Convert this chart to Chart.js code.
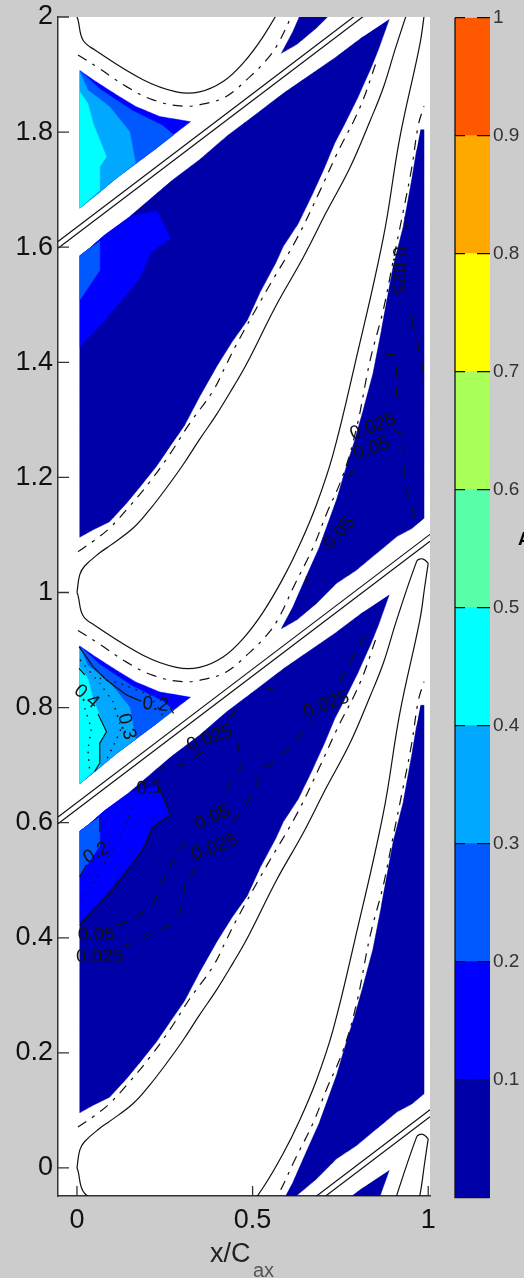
<!DOCTYPE html>
<html><head><meta charset="utf-8">
<script src="https://cdn.jsdelivr.net/npm/chart.js@4/dist/chart.umd.js"></script>
<style>
html,body{margin:0;padding:0;background:#cccccc;width:524px;height:1278px;overflow:hidden}
canvas{position:absolute;top:0;filter:blur(.45px)}
#main{left:0}#bar{left:440px}
</style></head><body>
<canvas id="main" width="440" height="1278"></canvas>
<canvas id="bar" width="84" height="1278"></canvas>
<script>
// ---------- axis ticks
const xTicks=[0,0.5,1];
const yTicks=[0,0.2,0.4,0.6,0.8,1,1.2,1.4,1.6,1.8,2];
const barTicks=[0.1,0.2,0.3,0.4,0.5,0.6,0.7,0.8,0.9,1];
const bandValues=[0.1,0.1,0.1,0.1,0.1,0.1,0.1,0.1,0.1,0.1];
const bandColors=['#0000a8','#0000ff','#0058ff','#00a8ff','#00ffff','#58ffa8','#a8ff58','#ffff00','#ffa800','#ff5800'];
const pitch=[-2,-1,0,1];

// ---------- blade geometry (x/Cax, pitch)
const bladeUpper=[[0,0],[.008,.031],[.022,.046],[.065,.069],[.093,.081],[.160,.112],[.207,.144],[.255,.182],[.302,.222],[.349,.266],[.397,.309],[.444,.356],[.482,.396],[.568,.500],[.644,.582],[.710,.661],[.777,.738],[.834,.819],[.872,.877],[.910,.952],[.967,1.054],[.975,1.058],[.986,1.058],[1,1.051]];
const bladeLower=[[0,0],[.003,-.005],[.017,-.040],[.050,-.057],[.188,-.109],[.283,-.130],[.349,-.130],[.416,-.112],[.473,-.080],[.530,-.034],[.587,.025],[.634,.083],[.682,.153],[.729,.240],[.791,.396],[.872,.616],[.919,.790],[.976,.952],[.990,1.01],[1,1.051]];
const edgeUpper=[[.003,.071],[.046,.089],[.093,.112],[.150,.150],[.207,.192],[.264,.240],[.321,.294],[.387,.350],[.425,.396],[.454,.431],[.539,.524],[.625,.614],[.691,.697],[.739,.761],[.805,.842],[.853,.923]];
const edgeLower=[[.003,-.066],[.065,-.090],[.141,-.121],[.217,-.144],[.302,-.155],[.368,-.150],[.425,-.138],[.492,-.104],[.539,-.075],[.571,-.048],[.620,.014],[.672,.078],[.710,.136],[.758,.205],[.796,.286],[.834,.402],[.872,.491],[.900,.576],[.929,.663],[.953,.738],[.972,.813],[.988,.845]];
const wakeUpper=[[-.054,.610],[1.005,1.101]];
const wakeLower=[[-.054,.598],[1.005,1.089]];

// ---------- filled contour bands, lowest level first
const passageMain=[[.889,1.996],[.858,1.943],[.839,1.914],[.801,1.862],[.763,1.815],[.734,1.781],[.706,1.740],[.672,1.694],[.630,1.641],[.587,1.601],[.568,1.575],[.520,1.520],[.485,1.473],[.440,1.434],[.397,1.392],[.349,1.340],[.307,1.291],[.264,1.253],[.226,1.219],[.188,1.190],[.141,1.155],[.093,1.123],[.046,1.109],[.008,1.096],[.008,1.585],[.036,1.598],[.079,1.621],[.150,1.653],[.217,1.688],[.273,1.717],[.349,1.752],[.425,1.792],[.501,1.827],[.587,1.867],[.663,1.899],[.739,1.931],[.815,1.966]];
const passageRight=[[.978,1.804],[.988,1.804],[.988,1.129],[.953,1.111],[.910,1.097],[.853,1.068],[.796,1.039],[.739,1.016],[.682,.981],[.625,.952],[.582,.937],[.615,.975],[.653,1.028],[.691,1.080],[.739,1.161],[.767,1.219],[.791,1.265],[.815,1.317],[.843,1.381],[.867,1.456],[.900,1.566],[.929,1.636],[.953,1.717],[.967,1.769]];
const passageBand1=[[.008,1.585],[.036,1.598],[.079,1.621],[.155,1.654],[.228,1.663],[.266,1.615],[.212,1.592],[.179,1.546],[.079,1.473],[.008,1.427]];
const passageBand2=[[.008,1.585],[.036,1.598],[.065,1.610],[.065,1.560],[.008,1.508]];
const pocketBand1=[[.008,1.907],[.046,1.891],[.112,1.865],[.169,1.844],[.236,1.827],[.323,1.818],[.274,1.795],[.226,1.772],[.169,1.746],[.112,1.720],[.065,1.696],[.008,1.668]];
const pocketBand2=[[.008,1.907],[.065,1.875],[.159,1.837],[.245,1.811],[.275,1.795],[.226,1.772],[.169,1.746],[.112,1.720],[.065,1.696],[.008,1.668]];
const pocketBand3=[[.008,1.905],[.031,1.873],[.093,1.844],[.150,1.801],[.167,1.746],[.112,1.720],[.065,1.696],[.008,1.668]];
const pocketBand4=[[.008,1.870],[.031,1.850],[.046,1.815],[.084,1.757],[.065,1.740],[.065,1.699],[.008,1.668]];

// ---------- contour lines (single pitch only)
const solidPieces=[
 [[.008,.422],[.103,.483],[.193,.558],[.217,.593],[.266,.613],[.236,.660]],
 [[.065,.610],[.065,.584]],
 [[.008,.506],[.027,.527]],
 [[.006,.906],[.046,.871],[.084,.848],[.141,.822],[.183,.811]],
 [[.266,.799],[.275,.790]],
 [[.006,.868],[.022,.857]],
 [[.060,.789],[.084,.758],[.065,.738],[.065,.703],[.050,.689]]
];
const dottedPieces=[
 [[.155,.625],[.141,.599],[.121,.570],[.084,.535],[.046,.495],[.008,.460]],
 [[.009,.883],[.065,.842],[.103,.810],[.126,.764],[.107,.738],[.084,.709]],
 [[.022,.799],[.041,.764],[.031,.726],[.036,.692]],
 [[.065,.851],[.122,.842],[.207,.822],[.250,.781]]
];
const dashedPieces=[
 [[.112,.422],[.150,.428],[.217,.457],[.245,.500],[.283,.547],[.311,.567]],
 [[.444,.602],[.473,.622],[.511,.666],[.535,.697],[.549,.700],[.582,.718],[.615,.735],[.668,.776]],
 [[.748,.845],[.772,.871],[.796,.900],[.829,.935]],
 [[.131,.387],[.169,.392],[.198,.402],[.236,.414],[.269,.422],[.292,.443],[.302,.471],[.307,.489],[.345,.527]],
 [[.425,.657],[.449,.680],[.468,.697],[.463,.720],[.454,.747]],
 [[.359,.723],[.311,.703],[.288,.700],[.255,.697],[.236,.695]],
 [[.435,.781],[.459,.799]],
 [[.539,.833],[.563,.832]],
 [[.877,1.414],[.905,1.413],[.910,1.381],[.910,1.340],[.896,1.330]],
 [[.900,1.282],[.927,1.274],[.931,1.230],[.931,1.201],[.943,1.167],[.962,1.132],[.962,1.117]],
 [[.953,1.473],[.971,1.427],[.986,1.384]],
 [[.934,1.653],[.938,1.630]],
 [[.948,1.485],[.957,1.473]],
 [[.772,1.201],[.805,1.224]],
 [[.653,1.028],[.657,1.010]]
];
const contourText=['0.025','0.025','0.05','0.025','0.05','0.025','0.2','0.1','0.2','0.3','0.4','0.025','0.05','0.05','0.025'];
const contourX=[.378,.710,.386,.392,.055,.065,.055,.207,.224,.141,.027,.843,.839,.748,.915];
const contourY=[.747,.805,.609,.557,.405,.367,.547,.660,.805,.767,.819,1.288,1.250,1.103,1.560];
const contourAngle=[-20,-20,-25,-20,0,0,-30,-5,5,75,40,-20,-20,-50,90];

// ---------- dataset builders
const pts=(a,dy=0)=>a.map(p=>({x:p[0],y:p[1]+dy}));
const area=(a,c,dy=0)=>({data:pts(a,dy),showLine:true,fill:'shape',backgroundColor:c,borderColor:c,borderWidth:.5,pointRadius:0,tension:.0001});
const stroke=(a,dash,dy=0,t=.0001,w=1.2)=>({data:pts(a,dy),showLine:true,fill:false,borderColor:'#111111',borderWidth:w,borderDash:dash,pointRadius:0,tension:t});

const layers=[];
pitch.forEach(d=>{layers.push(area(passageMain,bandColors[0],d));layers.push(area(passageRight,bandColors[0],d));});
[0,-1].forEach(d=>{
 layers.push(area(passageBand1,bandColors[1],d));
 layers.push(area(passageBand2,bandColors[2],d));
 layers.push(area(pocketBand1,bandColors[1],d));
 layers.push(area(pocketBand2,bandColors[2],d));
 layers.push(area(pocketBand3,bandColors[3],d));
 layers.push(area(pocketBand4,bandColors[4],d));
});
[-1,0,1,2].forEach(d=>{
 layers.push(stroke(bladeUpper,[],d,.4));
 layers.push(stroke(bladeLower,[],d,.4));
 layers.push(stroke(edgeUpper,[10,7,3,7],d,.4));
 layers.push(stroke(edgeLower,[10,7,3,7],d,.4));
});
[-1,0,1].forEach(d=>{
 layers.push(stroke(wakeUpper,[],d));
 layers.push(stroke(wakeLower,[],d));
});
solidPieces.forEach(a=>layers.push(stroke(a,[])));
dottedPieces.forEach(a=>layers.push(stroke(a,[1.5,6],0,.0001,1.4)));
dashedPieces.forEach(a=>layers.push(stroke(a,[11,10],0,.0001,1.3)));
layers.reverse(); // Chart.js paints the first dataset last

const decorate={
 id:'decorate',
 beforeDraw(c){const a=c.chartArea,x=c.ctx;x.save();x.fillStyle='#ffffff';x.fillRect(a.left,a.top,a.right-a.left,a.bottom-a.top);x.restore();},
 afterDatasetsDraw(c){
  const x=c.ctx,sx=c.scales.x,sy=c.scales.y,a=c.chartArea;
  x.save();
  x.fillStyle='#111111';x.textAlign='center';x.textBaseline='middle';x.font='19px "Liberation Sans"';
  contourText.forEach((t,i)=>{
   x.save();x.translate(sx.getPixelForValue(contourX[i]),sy.getPixelForValue(contourY[i]));
   x.rotate(contourAngle[i]*Math.PI/180);x.fillText(t,0,0);x.restore();
  });
  x.strokeStyle='#333333';x.lineWidth=1.3;x.beginPath();
  yTicks.forEach(v=>{const p=sy.getPixelForValue(v);x.moveTo(a.left,p);x.lineTo(a.left+11,p);});
  xTicks.forEach(v=>{const p=sx.getPixelForValue(v);x.moveTo(p,a.bottom);x.lineTo(p,a.bottom-10);});
  x.stroke();
  x.textAlign='left';x.textBaseline='alphabetic';x.fillStyle='#222222';
  x.font='27px "Liberation Sans"';x.fillText('x/C',210,1262);
  x.fillStyle='#555555';x.font='20px "Liberation Sans"';x.fillText('ax',253,1277);
  x.restore();
 }
};
const noPad=s=>{s.paddingLeft=0;s.paddingRight=0;s.paddingTop=0;s.paddingBottom=0;};

new Chart(document.getElementById('main'),{
 type:'scatter',
 data:{datasets:layers},
 plugins:[decorate],
 options:{
  responsive:false,animation:false,devicePixelRatio:1,
  layout:{padding:{left:0,top:17,right:10,bottom:0}},
  plugins:{legend:{display:false},tooltip:{enabled:false}},
  scales:{
   x:{type:'linear',min:-0.054,max:1.005,afterBuildTicks:s=>{s.ticks=xTicks.map(v=>({value:v}));},afterFit:s=>{s.height=82;noPad(s);},
      grid:{drawOnChartArea:false,drawTicks:false},border:{color:'#333333',width:1.5},
      ticks:{color:'#111111',font:{family:'Liberation Sans',size:27},padding:8,maxRotation:0,autoSkip:false,callback:v=>String(v)}},
   y:{type:'linear',min:-0.0487,max:2,afterBuildTicks:s=>{s.ticks=yTicks.map(v=>({value:v}));},afterFit:s=>{s.width=58;noPad(s);},
      grid:{drawOnChartArea:false,drawTicks:false},border:{color:'#333333',width:1.5},
      ticks:{color:'#111111',font:{family:'Liberation Sans',size:27},padding:5,autoSkip:false,callback:v=>String(v)}}
  }
 }
});

const barMarks={
 id:'barMarks',
 afterDatasetsDraw(c){
  const x=c.ctx,a=c.chartArea,sy=c.scales.y;
  x.save();x.strokeStyle='#111111';x.lineWidth=1.3;x.beginPath();
  barTicks.forEach(v=>{const p=sy.getPixelForValue(v);x.moveTo(a.left,p);x.lineTo(a.left+10,p);x.moveTo(a.right-13,p);x.lineTo(a.right,p);});
  x.moveTo(a.left,a.top);x.lineTo(a.left,a.bottom);x.lineTo(a.right,a.bottom);
  x.stroke();
  x.fillStyle='#000000';x.font='bold 18px "Liberation Sans"';x.textAlign='left';x.fillText('A',78,545);
  x.restore();
 }
};
new Chart(document.getElementById('bar'),{
 type:'bar',
 data:{labels:[''],datasets:bandValues.map((v,i)=>({data:[v],backgroundColor:bandColors[i],borderWidth:0,barPercentage:1,categoryPercentage:1}))},
 plugins:[barMarks],
 options:{
  responsive:false,animation:false,devicePixelRatio:1,
  layout:{padding:{left:15,top:17.7,right:0,bottom:80.3}},
  plugins:{legend:{display:false},tooltip:{enabled:false}},
  scales:{
   x:{stacked:true,display:false},
   y:{stacked:true,position:'right',min:0,max:1,afterBuildTicks:s=>{s.ticks=barTicks.map(v=>({value:v}));},afterFit:s=>{s.width=34;noPad(s);},
      grid:{display:true,drawOnChartArea:false,drawTicks:false,tickLength:0},border:{display:false},
      ticks:{color:'#333333',font:{family:'Liberation Sans',size:19},padding:3,autoSkip:false,callback:v=>String(v)}}
  }
 }
});
</script>
</body></html>
